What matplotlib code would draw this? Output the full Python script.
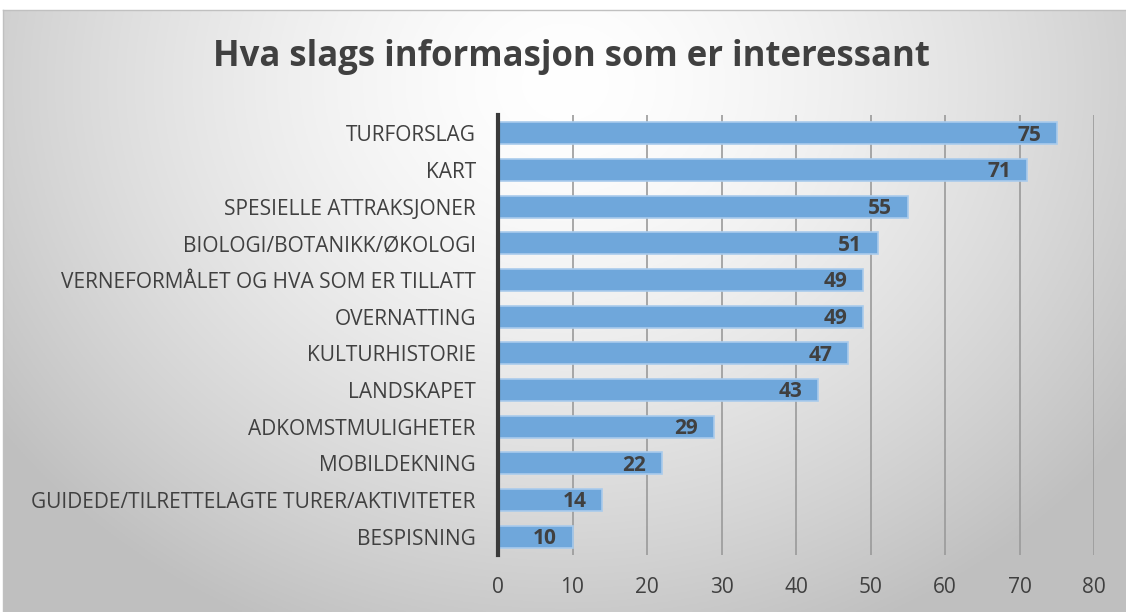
import numpy as np
import matplotlib
matplotlib.use("Agg")
import matplotlib.pyplot as plt

categories = ["TURFORSLAG", "KART", "SPESIELLE ATTRAKSJONER", "BIOLOGI/BOTANIKK/ØKOLOGI",
              "VERNEFORMÅLET OG HVA SOM ER TILLATT", "OVERNATTING", "KULTURHISTORIE",
              "LANDSKAPET", "ADKOMSTMULIGHETER", "MOBILDEKNING",
              "GUIDEDE/TILRETTELAGTE TURER/AKTIVITETER", "BESPISNING"]
values = [75, 71, 55, 51, 49, 49, 47, 43, 29, 22, 14, 10]
xticks = [0, 10, 20, 30, 40, 50, 60, 70, 80]
title = "Hva slags informasjon som er interessant"

W, H = 1126, 612
fig = plt.figure(figsize=(W/100, H/100), dpi=100)
fig.patch.set_facecolor("white")

# background gradient panel
bx0, by0 = 3/W, 0
bw, bh = (W-3)/W, (H-10)/H
bg = fig.add_axes([bx0, by0, bw, bh])
ny, nx = 300, 560
yy, xx = np.mgrid[0:ny, 0:nx]
cx, cy = nx*0.5, ny*0.12
d = np.sqrt(((xx-cx)/(nx*0.62))**2 + ((yy-cy)/(ny*1.0))**2)
d = np.clip(d, 0, 1)
val = 1.0 - 0.25*d**1.5
img = np.dstack([val, val, val])
bg.imshow(img, aspect="auto", extent=[0, 1, 0, 1], origin="upper")
bg.set_xlim(0, 1); bg.set_ylim(0, 1)
bg.set_xticks([]); bg.set_yticks([])
for s in ["top", "left"]:
    bg.spines[s].set_color("#c0c0c0"); bg.spines[s].set_linewidth(1)
for s in ["bottom", "right"]:
    bg.spines[s].set_visible(False)

ax = fig.add_axes([498/W, 1-555/H, (1094-498)/W, (555-115)/H])
ax.patch.set_alpha(0)
y = np.arange(len(categories))
ax.barh(y, values, height=0.6, color="#6fa7db", edgecolor="#a9cbec", linewidth=1.2, zorder=3)
ax.set_ylim(len(categories)-0.5, -0.5)
ax.set_xlim(0, 80)
ax.set_xticks(xticks)
ax.set_yticks(y)
ax.set_yticklabels(categories, fontsize=15, color="#404040", family="Open Sans")
ax.set_xticklabels([str(t) for t in xticks], fontsize=15, color="#404040", family="Open Sans")
ax.tick_params(axis="both", length=0)
ax.tick_params(axis="x", pad=16)
ax.tick_params(axis="y", pad=16)
ax.grid(axis="x", color="#9a9a9a", linewidth=1.2, zorder=0)
for s in ["top", "right", "bottom"]:
    ax.spines[s].set_visible(False)
ax.spines["left"].set_color("#3a3a3a")
ax.spines["left"].set_linewidth(3)
ax.spines["left"].set_zorder(4)

for yi, v in zip(y, values):
    ax.text(v - 2.1, yi + 0.05, str(v), ha="right", va="center", fontsize=15,
            fontweight="bold", color="#404040", family="Open Sans", zorder=5)

fig.text(571/W, 1-57/H, title, ha="center", va="center", fontsize=25,
         fontweight="bold", color="#404040", family="Open Sans")

fig.savefig("out.png", dpi=100)
